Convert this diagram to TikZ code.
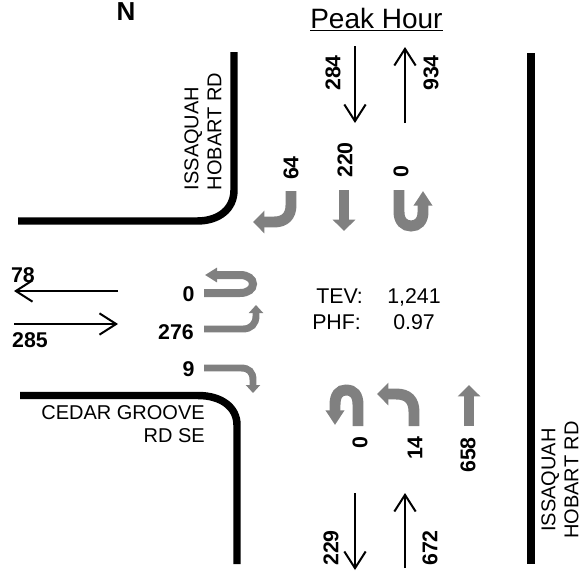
\documentclass[tikz,border=0pt]{standalone}
\usepackage{fontspec}
\setmainfont{Liberation Sans}
\usetikzlibrary{arrows.meta}
\definecolor{grayarrow}{HTML}{808080}
\tikzset{
 x=0.75pt,y=-0.75pt,
 road/.style={line width=5.6pt,black},
 flow/.style={line width=1.5pt,black,-{Straight Barb[length=12.5pt,width=16pt,line width=1.5pt]}},
 turnA/.style={line width=8.2pt,grayarrow,-{Triangle[length=8.5pt,width=16.5pt]}},
 turnU/.style={line width=8.2pt,grayarrow,-{Triangle[length=11pt,width=13.5pt]}},
 turnB/.style={line width=5.2pt,grayarrow,-{Triangle[length=6pt,width=10.5pt]}},
 turnC/.style={line width=6pt,grayarrow,-{Triangle[length=9pt,width=10.5pt]}},
 num/.style={font=\fontsize{16}{18}\selectfont\bfseries,inner sep=0pt},
 numv/.style={num,rotate=90},
 txt/.style={font=\fontsize{15}{17.3}\selectfont,inner sep=0pt},
 info/.style={font=\fontsize{16}{18}\selectfont,inner sep=0pt,anchor=base west},
}
\begin{document}
\begin{tikzpicture}
\useasboundingbox (0,0) rectangle (582,572);
% roads
\coordinate (r1a) at (18,221); \coordinate (r1b) at (197,221); \coordinate (r1c) at (234,190); \coordinate (r1d) at (234,52);
\coordinate (r2a) at (20,395.5); \coordinate (r2b) at (198,395.5); \coordinate (r2c) at (237,425); \coordinate (r2d) at (237,564);
\coordinate (r3a) at (531,53); \coordinate (r3b) at (531,564);
\draw[road] (r1a) -- (r1b) .. controls (219,221) and (234,209) .. (r1c) -- (r1d);
\draw[road] (r2a) -- (r2b) .. controls (221,395.5) and (237,407) .. (r2c) -- (r2d);
\draw[road] (r3a) -- (r3b);
% volume arrows
\coordinate (f1a) at (355,46); \coordinate (f1b) at (355,123);
\coordinate (f2a) at (405,123); \coordinate (f2b) at (405,47);
\coordinate (f3a) at (118,291); \coordinate (f3b) at (14,291);
\coordinate (f4a) at (14,324); \coordinate (f4b) at (118,324);
\coordinate (f5a) at (355,493); \coordinate (f5b) at (355,570);
\coordinate (f6a) at (405,568); \coordinate (f6b) at (405,493);
\foreach \a/\b in {f1a/f1b,f2a/f2b,f3a/f3b,f4a/f4b,f5a/f5b,f6a/f6b} \draw[flow] (\a) -- (\b);
% turn arrows: north approach
\coordinate (n1) at (291,191); \coordinate (n1t) at (253,222);
\draw[turnA] (n1) -- (291,205) .. controls (291,216) and (285,222) .. (274,222) -- (n1t);
\coordinate (n2) at (344,190); \coordinate (n2t) at (344,231);
\draw[turnA] (n2) -- (n2t);
\coordinate (n3) at (399,190); \coordinate (n3t) at (423,191);
\draw[turnU] (n3) -- (399,212) .. controls (399,221) and (404,226) .. (411,226) .. controls (418,226) and (423,221) .. (423,212) -- (n3t);
% west approach
\coordinate (w1) at (204,293); \coordinate (w1t) at (205,275);
\draw[turnC] (w1) -- (240,293) .. controls (248,293) and (253,289) .. (253,284) .. controls (253,279) and (248,275) .. (240,275) -- (w1t);
\coordinate (w2) at (204,329); \coordinate (w2t) at (256,305);
\draw[turnB] (w2) -- (243,329) .. controls (251,329) and (256,324) .. (256,316) -- (w2t);
\coordinate (w3) at (204,368); \coordinate (w3t) at (253,393);
\draw[turnB] (w3) -- (241,368) .. controls (249,368) and (253,372) .. (253,380) -- (w3t);
% south approach
\coordinate (s1) at (358,426); \coordinate (s1t) at (335,425);
\draw[turnU] (s1) -- (358,405) .. controls (358,395) and (354,390) .. (346,390) .. controls (339,390) and (335,395) .. (335,405) -- (s1t);
\coordinate (s2) at (414,426); \coordinate (s2t) at (377,394);
\draw[turnA] (s2) -- (414,412) .. controls (414,400) and (408,394) .. (396,394) -- (s2t);
\coordinate (s3) at (469,426); \coordinate (s3t) at (469,385);
\draw[turnA] (s3) -- (s3t);
% texts
\node[inner sep=0pt,font=\fontsize{19.5}{22}\selectfont\bfseries] (north) at (126,12) {N};
\node[inner sep=0pt,anchor=base west,font=\fontsize{21}{24}\selectfont] (peak) at (310,28) {\underline{Peak Hour}};
\node[numv] (l284) at (333,73) {284};
\node[numv] (l934) at (431,73) {934};
\node[numv] (l64) at (291,168) {64};
\node[numv] (l220) at (345,160) {220};
\node[numv] (l0n) at (401,172) {0};
\node[num] (l78) at (23,275) {78};
\node[num] (l285) at (30,340) {285};
\node[num] (l0w) at (188.5,294.5) {0};
\node[num] (l276) at (176,332) {276};
\node[num] (l9) at (188.5,369) {9};
\node[numv] (l0s) at (360,443) {0};
\node[numv] (l14) at (415,448) {14};
\node[numv] (l658) at (468,455) {658};
\node[numv] (l229) at (331,548) {229};
\node[numv] (l672) at (430,548) {672};
\node[info] (tev) at (316,303) {TEV:};
\node[info] (tevv) at (387,303) {1,241};
\node[info] (phf) at (312,329) {PHF:};
\node[info] (phfv) at (393,329) {0.97};
\node[txt,rotate=90,align=left] (rn) at (203,131.5) {ISSAQUAH\\HOBART RD};
\node[txt,rotate=90,align=center] (re) at (560,480) {ISSAQUAH\\HOBART RD};
\node[txt,align=right,anchor=north east] (rw) at (205,405) {CEDAR GROOVE\\RD SE};
\end{tikzpicture}
\end{document}
